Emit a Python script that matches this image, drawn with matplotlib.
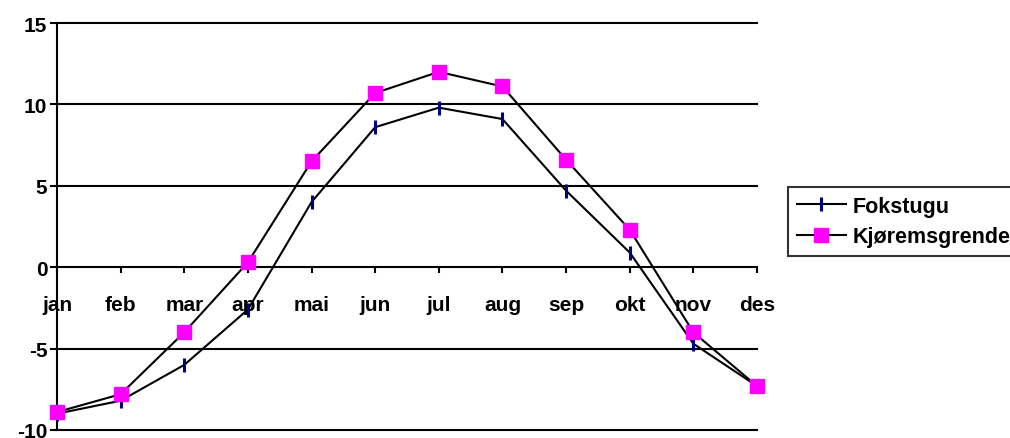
import matplotlib
matplotlib.use("Agg")
import matplotlib.pyplot as plt
import numpy as np

plt.rcParams['font.family'] = ['Liberation Sans', 'DejaVu Sans']
plt.rcParams['font.weight'] = 'bold'

months = ['jan', 'feb', 'mar', 'apr', 'mai', 'jun', 'jul', 'aug', 'sep', 'okt', 'nov', 'des']
fokstugu = [-9.0, -8.2, -6.0, -2.6, 4.0, 8.6, 9.8, 9.1, 4.7, 0.9, -4.7, -7.3]
kjoremsgrende = [-8.9, -7.8, -4.0, 0.3, 6.5, 10.7, 12.0, 11.1, 6.6, 2.3, -4.0, -7.3]
yticks = [-10, -5, 0, 5, 10, 15]

FS = 15
W, H = 1010, 439
fig = plt.figure(figsize=(W / 100, H / 100), dpi=100)
ax = fig.add_axes([57 / W, 1 - 431 / H, 700 / W, 407 / H])

x = np.arange(len(months))

# gridlines
for y in yticks:
    if y != 0:
        ax.axhline(y, color='black', lw=1.5, zorder=1, clip_on=False)

ax.plot(x, fokstugu, color='black', lw=1.5, marker='|', markersize=10,
        markeredgewidth=2.2, markeredgecolor='#000080', label='Fokstugu',
        zorder=3, clip_on=False)
ax.plot(x, kjoremsgrende, color='black', lw=1.5, marker='s', markersize=10.5,
        markerfacecolor='#ff00ff', markeredgecolor='#ff00ff',
        label='Kjøremsgrende', zorder=4, clip_on=False)

for s in ['top', 'right']:
    ax.spines[s].set_visible(False)
ax.spines['bottom'].set_position(('data', 0))
ax.spines['bottom'].set_linewidth(1.5)
ax.spines['left'].set_linewidth(1.5)

ax.set_xlim(0, len(months) - 1)
ax.set_ylim(-10, 15)
ax.set_yticks(yticks)
ax.set_yticklabels([str(v) for v in yticks])
ax.set_xticks(x)
ax.set_xticklabels(months)
ax.tick_params(axis='x', direction='out', length=4, width=1.5, pad=16, labelsize=FS)
ax.tick_params(axis='y', direction='out', length=5, width=1.5, pad=2, labelsize=FS)

leg = fig.legend(loc='upper left', bbox_to_anchor=(788 / W, 1 - 188 / H),
                 frameon=True, fancybox=False, prop={'size': 15.5, 'weight': 'bold'},
                 handlelength=2.3, borderaxespad=0, labelspacing=0.45,
                 handletextpad=0.3, borderpad=0.4)
leg.get_frame().set_edgecolor('black')
leg.get_frame().set_linewidth(1.5)

fig.savefig('out.png', dpi=100)
